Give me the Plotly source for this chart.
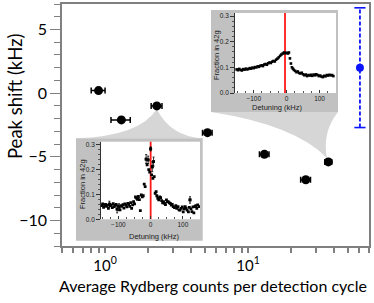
import numpy as np
import plotly.graph_objects as go

# ---------------- data ----------------
counts = [0.9, 1.3, 2.3, 5.2, 13.0, 25.3, 36.4]
counts_err = [0.1, 0.2, 0.2, 0.4, 1.0, 2.0, 2.0]
shift = [0.2, -2.1, -1.0, -3.1, -4.8, -6.8, -5.4]

ref_count = [60.5]
ref_shift = [2.0]
ref_err = [4.7]

# inset A (top right, taken at the highest count)
detA = [-152, -148, -144, -140, -136, -132, -128, -124, -120, -116, -112, -108, -104, -100,
        -96, -92, -88, -84, -80, -76, -72, -68, -64, -60, -56, -52, -48, -44, -40, -36,
        -32, -28, -24, -20, -16, -12, -8, -4, 0, 4, 7, 10, 13, 16, 19, 22, 26, 30, 34,
        38, 42, 46, 50, 54, 58, 62, 66, 70, 74, 78, 82, 86, 90, 94, 98, 102, 106, 110,
        114, 118, 122, 126, 130, 134, 138, 142]
fracA = [0.092, 0.089, 0.094, 0.090, 0.088, 0.093, 0.091, 0.095, 0.092, 0.094, 0.097, 0.095,
         0.099, 0.097, 0.101, 0.100, 0.104, 0.102, 0.106, 0.108, 0.105, 0.111, 0.113, 0.110,
         0.116, 0.119, 0.117, 0.122, 0.125, 0.123, 0.130, 0.134, 0.139, 0.145, 0.150, 0.154,
         0.158, 0.155, 0.157, 0.154, 0.158, 0.135, 0.115, 0.100, 0.095, 0.090, 0.086, 0.081,
         0.084, 0.078, 0.076, 0.079, 0.073, 0.069, 0.072, 0.066, 0.070, 0.068, 0.071, 0.067,
         0.072, 0.069, 0.073, 0.070, 0.066, 0.068, 0.064, 0.062, 0.067, 0.065, 0.070, 0.068,
         0.071, 0.069, 0.070, 0.066]
lineA = -5

# inset B (bottom left, taken at low count)
detB = [-152, -149, -146, -143, -140, -137, -134, -131, -128, -125, -122, -119, -116, -113,
        -110, -107, -104, -101, -98, -95, -92, -89, -86, -83, -80, -77, -74, -71, -68, -65,
        -62, -59, -56, -53, -50, -47, -44, -41, -38, -35, -32, -29, -26, -23, -20, -17,
        -14, -11, -8, -6, -3, 0, 3, 5, 7, 9, 11, 14, 17, 19, 22, 25, 28, 31, 34, 37, 40,
        43, 46, 49, 52, 55, 58, 61, 64, 67, 70, 74, 78, 81, 85, 88, 91, 95, 98, 101, 104,
        107, 110, 113, 117, 120, 122, 125, 128, 131, 134, 137, 140, 143, 146, 150]
fracB = [0.055, 0.062, 0.048, 0.058, 0.060, 0.052, 0.057, 0.044, 0.061, 0.055, 0.058, 0.047,
         0.063, 0.051, 0.056, 0.060, 0.041, 0.054, 0.049, 0.038, 0.055, 0.052, 0.059, 0.045,
         0.062, 0.057, 0.050, 0.064, 0.060, 0.052, 0.067, 0.044, 0.058, 0.071, 0.062, 0.090,
         0.086, 0.080, 0.092, 0.079, 0.035, 0.098, 0.091, 0.095, 0.142, 0.132, 0.243, 0.220,
         0.240, 0.200, 0.190, 0.284, 0.179, 0.212, 0.165, 0.233, 0.172, 0.105, 0.112, 0.095,
         0.085, 0.078, 0.090, 0.087, 0.075, 0.066, 0.071, 0.064, 0.059, 0.078, 0.071, 0.070,
         0.066, 0.064, 0.057, 0.060, 0.051, 0.047, 0.055, 0.044, 0.051, 0.038, 0.037, 0.044,
         0.050, 0.030, 0.042, 0.051, 0.045, 0.037, 0.030, 0.048, 0.078, 0.042, 0.031, 0.050,
         0.026, 0.051, 0.055, 0.044, 0.058, 0.051]
errB_det = [-128, -104, -98, -14, -8, 0, 5, 9, 122]
errB_frac = [0.061, 0.041, 0.049, 0.243, 0.240, 0.284, 0.212, 0.233, 0.078]
errB_size = [0.012, 0.015, 0.014, 0.018, 0.015, 0.008, 0.02, 0.018, 0.013]
lineB = 0

x_ticktext = ["10<sup>0</sup>", "10<sup>1</sup>"]
x_tickvals = [1, 10]
y_tickvals = [-10, -5, 0, 5]

# ---------------- geometry ----------------
W, H = 374, 303
L, R, T, B = 62, 5, 4, 57
PW, PH = W - L - R, H - T - B
XR = [np.log10(0.5), np.log10(70)]
YR = [-12, 7]


def px(x):  # pixel x -> paper
    return (x - L) / PW


def py(y):  # pixel y -> paper
    return (T + PH - y) / PH


def dx(v):  # data x -> paper
    return (np.log10(v) - XR[0]) / (XR[1] - XR[0])


def dy(v):  # data y -> paper
    return (v - YR[0]) / (YR[1] - YR[0])


GRAY = "#808080"
INSET_BG = "#c1c1c1"
CONN = "#d6d6d6"
MAINFONT = "Lato"
INFONT = "Liberation Sans"

fig = go.Figure()

# main data
fig.add_trace(go.Scatter(
    x=counts, y=shift, mode="markers",
    marker=dict(color="black", size=9),
    error_x=dict(type="data", array=counts_err, color="black", thickness=1.5, width=3),
    xaxis="x", yaxis="y"))

# reference point with dashed error bar
fig.add_trace(go.Scatter(
    x=[ref_count[0], ref_count[0]], y=[ref_shift[0] - ref_err[0], ref_shift[0] + ref_err[0]],
    mode="lines+markers", line=dict(color="#0a14ff", width=1.8, dash="4px,2px"),
    marker=dict(symbol="line-ew-open", size=8, line=dict(color="#0a14ff", width=1.6)),
    xaxis="x", yaxis="y"))
fig.add_trace(go.Scatter(
    x=ref_count, y=ref_shift, mode="markers",
    marker=dict(color="#0a14ff", size=8), xaxis="x", yaxis="y"))

# inset A
fig.add_trace(go.Scatter(x=[lineA, lineA], y=[0, 0.312], mode="lines",
                         line=dict(color="#ff1a1a", width=1.8), xaxis="x2", yaxis="y2"))
fig.add_trace(go.Scatter(x=detA, y=fracA, mode="markers",
                         marker=dict(color="black", size=2.6, symbol="square"),
                         xaxis="x2", yaxis="y2"))
# inset B
fig.add_trace(go.Scatter(x=[lineB, lineB], y=[0, 0.322], mode="lines",
                         line=dict(color="#ff1a1a", width=1.8), xaxis="x3", yaxis="y3",
                         cliponaxis=False))
fig.add_trace(go.Scatter(x=detB, y=fracB, mode="markers",
                         marker=dict(color="black", size=2.8, symbol="square"),
                         xaxis="x3", yaxis="y3"))
fig.add_trace(go.Scatter(x=errB_det, y=errB_frac, mode="markers",
                         marker=dict(color="black", size=2.8, symbol="square"),
                         error_y=dict(type="data", array=errB_size, color="black",
                                      thickness=0.8, width=1),
                         xaxis="x3", yaxis="y3"))

# ---------------- shapes (insets + connectors) ----------------
tipB = (dx(counts[2]), dy(shift[2]) - 3 / PH)
tipA = (dx(counts[6]) - 1.5 / PW, dy(shift[6]) + 4 / PH)
rectA = (px(211), py(112), px(338), py(10))
rectB = (px(76), py(240.7), px(202.7), py(138.3))

pathB = (f"M {tipB[0]},{tipB[1]} Q {px(140)},{py(136)} {rectB[0]},{rectB[3]} "
         f"L {rectB[2]},{rectB[3]} Q {px(170)},{py(136)} {tipB[0]},{tipB[1]} Z")
pathA = (f"M {rectA[0]},{rectA[1]} Q {px(295)},{py(125)} {tipA[0]},{tipA[1]} "
         f"Q {px(322)},{py(132)} {rectA[2]},{rectA[1]} Z")

shapes = [
    dict(type="path", xref="paper", yref="paper", path=pathB, fillcolor=CONN,
         line=dict(width=0), layer="below"),
    dict(type="path", xref="paper", yref="paper", path=pathA, fillcolor=CONN,
         line=dict(width=0), layer="below"),
    dict(type="rect", xref="paper", yref="paper", x0=rectA[0], y0=rectA[1], x1=rectA[2],
         y1=rectA[3], fillcolor=INSET_BG, line=dict(width=0), layer="below"),
    dict(type="rect", xref="paper", yref="paper", x0=rectB[0], y0=rectB[1], x1=rectB[2],
         y1=rectB[3], fillcolor=INSET_BG, line=dict(width=0), layer="below"),
]


def ann(text, x, y, size, family, color="black", angle=0):
    return dict(text=text, textangle=angle, xref="paper", yref="paper", x=px(x), y=py(y),
                xanchor="center", yanchor="middle", showarrow=False,
                font=dict(family=family, size=size, color=color))


annotations = [
    ann("Peak shift (kHz)", 15, 96, 18.5, MAINFONT, angle=-90),
    ann("Average Rydberg counts per detection cycle", 213, 285, 16, MAINFONT),
    ann("Fraction in 42g", 217, 55, 7.5, INFONT, "#222", -90),
    ann("Detuning (kHz)", 277, 107, 7.5, INFONT, "#222"),
    ann("Fraction in 42g", 82, 184, 7.5, INFONT, "#222", -90),
    ann("Detuning (kHz)", 154, 236.5, 7.5, INFONT, "#222"),
]

minor_x = [0.5, 0.6, 0.7, 0.8, 0.9, 2, 3, 4, 5, 6, 7, 8, 9, 20, 30, 40, 50, 60, 70]

inset_y = dict(showgrid=False, zeroline=False, showline=True, linecolor="#333", linewidth=0.8,
               ticks="outside", ticklen=4, tickcolor="#333", tickwidth=0.8, dtick=0.1,
               tickformat=".1f", tickfont=dict(family=INFONT, size=6.5, color="#222"),
               minor=dict(dtick=0.02, ticks="outside", ticklen=2, tickcolor="#555", tickwidth=0.6))
inset_x = dict(showgrid=False, zeroline=False, showline=False,
               ticks="inside", ticklen=3, tickcolor="#333", tickwidth=0.8, dtick=100,
               tickfont=dict(family=INFONT, size=6.5, color="#222"),
               minor=dict(dtick=25, ticks="inside", ticklen=2, tickcolor="#555", tickwidth=0.6))

fig.update_layout(
    width=W, height=H, margin=dict(l=L, r=R, t=T, b=B, autoexpand=False),
    plot_bgcolor="white", paper_bgcolor="white", showlegend=False,
    shapes=shapes, annotations=annotations,
    xaxis=dict(type="log", range=XR, tickvals=x_tickvals, ticktext=x_ticktext,
               ticks="outside", ticklen=5, tickwidth=1.5, tickcolor=GRAY,
               showline=True, linecolor=GRAY, linewidth=1.5, mirror=True, showgrid=False,
               zeroline=False, tickfont=dict(family=MAINFONT, size=15, color="black"),
               automargin=False,
               minor=dict(tickvals=minor_x, ticks="outside", ticklen=5, tickwidth=1.5,
                          tickcolor=GRAY)),
    yaxis=dict(range=YR, tickvals=y_tickvals, ticks="outside", ticklen=10, tickwidth=1,
               tickcolor=GRAY, showline=True, linecolor=GRAY, linewidth=1.5, mirror=True,
               showgrid=False, zeroline=False, automargin=False,
               tickfont=dict(family=MAINFONT, size=16, color="black"),
               minor=dict(dtick=1, ticks="outside", ticklen=6, tickwidth=1, tickcolor=GRAY)),
    xaxis2=dict(domain=[px(235), px(336)], range=[-157, 150], anchor="y2", **inset_x),
    yaxis2=dict(domain=[py(93), py(13)], range=[0, 0.312], anchor="x2", **inset_y),
    xaxis3=dict(domain=[px(101), px(200)], range=[-154, 153], anchor="y3", **inset_x),
    yaxis3=dict(domain=[py(219.3), py(141.7)], range=[0, 0.313], anchor="x3", **inset_y),
)

fig.write_html("out.html", config={"displayModeBar": False},
               post_script="document.body.style.margin='0';document.body.style.overflow='hidden';")
